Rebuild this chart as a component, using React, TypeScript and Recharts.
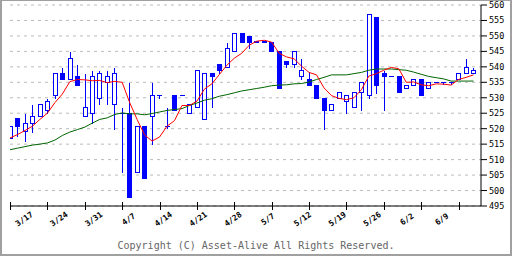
import { ComposedChart, Bar, Line, XAxis, YAxis, CartesianGrid } from 'recharts'

const dateLabels = ['3/17', '3/24', '3/31', '4/7', '4/14', '4/21', '4/28', '5/7', '5/12', '5/19', '5/26', '6/2', '6/9']

const openP = [
  517.0, 523.3, 519.2, 521.9, 524.1, 526.1, 530.8, 538.0, 536.0, 537.0,
  524.1, 525.1, 530.0, 535.0, 528.0, 525.1, 525.1, 506.0, 520.9, 524.1,
  530.9, 520.9, 530.9, 530.9, 525.1, 527.0, 523.2, 538.0, 541.0, 540.1,
  545.0, 551.0, 550.1, 548.5, 548.5, 548.0, 545.0, 542.0, 540.8, 537.0,
  536.1, 534.0, 530.0, 526.0, 529.8, 529.0, 527.0, 531.9, 530.8, 556.2,
  538.0, 537.0, 537.0, 533.2, 534.1, 536.1, 533.2, 535.1, 535.1, 535.1,
  536.1, 538.0, 538.0,
]
const highP = [
  521.0, 523.5, 525.1, 528.1, 528.0, 530.0, 538.0, 540.1, 545.2, 541.0,
  538.1, 539.1, 539.1, 539.1, 540.1, 527.0, 535.2, 520.9, 520.9, 535.2,
  530.9, 527.0, 530.9, 530.9, 528.0, 539.1, 538.0, 538.0, 541.0, 548.1,
  551.0, 551.0, 550.1, 548.5, 548.5, 548.0, 545.0, 542.0, 545.0, 542.8,
  538.5, 534.0, 530.0, 528.0, 531.9, 530.8, 531.9, 535.1, 557.0, 556.2,
  539.1, 537.0, 537.0, 534.1, 536.1, 536.1, 535.1, 535.1, 535.1, 535.1,
  538.0, 542.8, 540.1,
]
const lowP = [
  517.0, 517.5, 516.0, 518.9, 524.1, 525.1, 530.0, 536.0, 536.0, 534.0,
  524.1, 521.7, 528.0, 528.0, 519.9, 506.0, 497.9, 506.0, 504.0, 515.1,
  530.0, 520.3, 526.1, 530.9, 525.1, 527.0, 523.2, 527.0, 538.0, 540.1,
  545.0, 548.0, 546.1, 548.0, 548.0, 545.0, 533.1, 539.8, 539.8, 536.1,
  534.0, 529.8, 519.8, 526.0, 529.8, 525.0, 527.0, 526.0, 529.8, 531.7,
  526.0, 537.0, 531.8, 533.2, 534.1, 530.8, 533.2, 535.1, 534.6, 534.6,
  536.1, 538.0, 538.0,
]
const closeP = [
  521.0, 520.8, 521.9, 524.1, 528.0, 529.0, 538.0, 536.0, 542.8, 534.0,
  527.0, 537.0, 538.0, 537.0, 538.0, 525.1, 497.9, 520.9, 504.0, 530.9,
  530.9, 520.9, 526.1, 530.9, 528.0, 539.1, 538.0, 537.0, 539.1, 546.1,
  551.0, 548.0, 548.0, 548.0, 548.0, 545.0, 533.1, 540.8, 545.0, 538.9,
  534.0, 529.8, 526.0, 528.0, 531.9, 530.8, 531.9, 535.1, 557.0, 534.0,
  536.9, 537.0, 531.8, 534.1, 536.1, 530.8, 535.1, 535.1, 535.1, 535.1,
  538.0, 540.1, 538.9,
]
// short moving average (red)
const maShort = [
  517.0, 518.1, 519.4, 520.8, 523.0, 525.0, 528.4, 531.2, 535.2, 535.9,
  535.8, 535.5, 535.6, 534.9, 535.3, 535.0, 528.5, 523.0, 518.0, 516.0,
  517.3, 520.8, 522.6, 527.5, 527.5, 528.9, 532.8, 534.5, 537.5, 540.5,
  542.8, 544.4, 547.0, 548.3, 548.6, 548.0, 544.4, 543.2, 542.6, 540.2,
  538.2, 537.4, 533.2, 530.7, 529.8, 529.4, 530.0, 532.6, 537.0, 537.8,
  538.9, 539.8, 539.4, 535.0, 535.1, 534.2, 533.9, 534.5, 534.4, 534.1,
  535.9, 536.6, 537.4,
]
// long moving average (green)
const maLong = [
  513.2, 513.7, 514.2, 514.7, 515.0, 515.4, 516.3, 517.8, 518.9, 519.7,
  520.5, 521.8, 523.0, 523.5, 524.6, 525.1, 524.8, 524.8, 524.5, 524.9,
  525.4, 525.9, 526.2, 526.5, 527.5, 528.3, 529.2, 529.7, 530.5, 531.0,
  531.6, 532.2, 532.6, 533.0, 533.4, 533.9, 534.1, 534.2, 534.5, 534.6,
  535.1, 535.9, 536.6, 537.4, 537.4, 537.4, 537.8, 538.2, 538.9, 539.3,
  539.3, 539.3, 539.1, 538.9, 538.3, 537.6, 536.9, 536.5, 536.1, 535.4,
  535.4, 535.4, 535.4,
]
const priceTicks = [495, 500, 505, 510, 515, 520, 525, 530, 535, 540, 545, 550, 555, 560]

const data = openP.map((o, i) => ({
  i,
  open: o,
  high: highP[i],
  low: lowP[i],
  close: closeP[i],
  maShort: maShort[i],
  maLong: maLong[i],
}))
const dateTicks = dateLabels.map((_, k) => k * 5)

const BLUE = '#0000ff'
const MONO = '"DejaVu Sans Mono", monospace'

const Candle = (props: any) => {
  const { x, y, width, height, payload } = props
  if (x == null || y == null || !payload) return null
  const { open, close, high, low } = payload
  const top0 = Math.min(y, y + height)
  const h = Math.abs(height)
  const span = high - low
  const toY = (p: number) => (span > 0 ? top0 + ((high - p) / span) * h : top0)
  const cx = Math.round(x + width / 2) + 0.5
  const yHi = Math.round(toY(high)) + 0.5
  const yLo = Math.round(toY(low)) + 0.5
  const bTop = Math.round(toY(Math.max(open, close))) + 0.5
  const bBot = Math.round(toY(Math.min(open, close))) + 0.5
  const up = close >= open
  return (
    <g shapeRendering="crispEdges">
      {yLo > yHi && <line x1={cx} x2={cx} y1={yHi} y2={yLo} stroke={BLUE} strokeWidth={1} />}
      {bBot - bTop < 1 ? (
        <line x1={cx - 2.5} x2={cx + 2.5} y1={bTop} y2={bTop} stroke={BLUE} strokeWidth={1} />
      ) : (
        <rect x={cx - 2} y={bTop} width={4} height={bBot - bTop}
          fill={up ? '#ffffff' : BLUE} stroke={BLUE} strokeWidth={1} />
      )}
    </g>
  )
}

const DateTick = (props: any) => {
  const { x, y, payload } = props
  const label = dateLabels[Math.round(payload.value / 5)] ?? ''
  const tx = Math.round(x) + 0.5
  const lx = 0.931 * x + 14.8
  const ly = 219
  return (
    <g>
      <line x1={tx} x2={tx} y1={y - 4} y2={y + 4} stroke="#000" shapeRendering="crispEdges" />
      <text x={lx} y={ly} dy="0.35em" textAnchor="middle" fontFamily={MONO} fontSize={8}
        fontWeight="bold" fill="#000" transform={`rotate(-35, ${lx}, ${ly})`}>
        {label}
      </text>
    </g>
  )
}

export default function App() {
  return (
    <div style={{ position: 'relative', width: 512, height: 256, background: '#fff' }}>
      <style>{'body{margin:0}'}</style>
      <div style={{
        position: 'absolute', inset: 0, boxSizing: 'border-box',
        borderStyle: 'solid', borderColor: '#a0a0a0', borderWidth: '1px 2px 2px 2px',
      }} />
      <div style={{ position: 'absolute', left: 0, top: 0 }}>
        <ComposedChart width={512} height={256} data={data}
          margin={{ top: 5, right: 2, left: 10, bottom: 10 }}>
          <CartesianGrid horizontal vertical={false} stroke="#bbbbbb" strokeDasharray="3 4"
            yAxisId="p" />
          <XAxis dataKey="i" type="number" domain={[0, 63]} ticks={dateTicks} interval={0}
            height={40} tickSize={0} tickMargin={0} tickLine={false}
            axisLine={{ stroke: '#000' }} tick={<DateTick />} allowDataOverflow />
          <YAxis yAxisId="l" orientation="left" width={0} domain={[495, 560]} tick={false}
            tickLine={false} axisLine={{ stroke: '#000' }} />
          <YAxis yAxisId="p" orientation="right" width={29} domain={[495, 560]} ticks={priceTicks}
            interval={0} tickSize={6} tickMargin={2} axisLine={{ stroke: '#000' }}
            tickLine={{ stroke: '#000' }}
            tick={{ fill: '#000', fontSize: 8.5, fontFamily: MONO }} />
          <Bar yAxisId="p" dataKey={(d: any) => [d.low, d.high]} barSize={5}
            shape={<Candle />} isAnimationActive={false} />
          <Line yAxisId="p" dataKey="maLong" stroke="#006400" strokeWidth={1} dot={false}
            type="linear" isAnimationActive={false} />
          <Line yAxisId="p" dataKey="maShort" stroke="#ff0000" strokeWidth={1} dot={false}
            type="linear" isAnimationActive={false} />
        </ComposedChart>
      </div>
      <div style={{
        position: 'absolute', left: 0, width: 512, top: 240, textAlign: 'center',
        fontFamily: MONO, fontSize: 10, color: '#666', lineHeight: '12px',
      }}>
        Copyright (C) Asset-Alive All Rights Reserved.
      </div>
    </div>
  )
}
